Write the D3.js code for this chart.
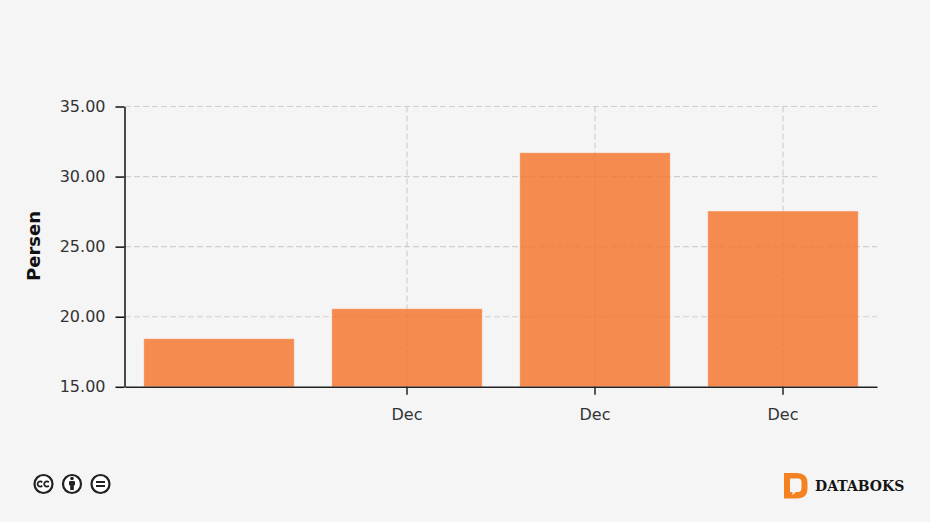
<!DOCTYPE html>
<html><head><meta charset="utf-8">
<script src="https://cdn.jsdelivr.net/npm/d3@7/dist/d3.min.js"></script>
<style>
html,body{margin:0;padding:0;background:#f5f5f5;overflow:hidden}
text{font-family:"DejaVu Sans",sans-serif}
</style></head><body>
<svg id="c" width="930" height="522"></svg>
<script>
const categories = ["a", "b", "c", "d"];
const categoryLabels = ["", "Dec", "Dec", "Dec"];
const values = [18.43, 20.57, 31.7, 27.54];
const yTicks = [15, 20, 25, 30, 35];
const yTitle = "Persen";
const brand = "DATABOKS";

const svg = d3.select("#c");
const x = d3.scaleBand().domain(categories).range([125, 877]).paddingInner(0.2).paddingOuter(0.1);
const y = d3.scaleLinear().domain([15, 35]).range([386.8, 106.5]);

// grid
const grid = svg.append("g").attr("stroke", "#cfcfcf").attr("stroke-width", 1.2).attr("stroke-dasharray", "6 3");
grid.selectAll("line.h").data(yTicks.slice(1)).join("line").attr("class", "h")
  .attr("x1", 125).attr("x2", 877).attr("y1", d => y(d)).attr("y2", d => y(d));
grid.selectAll("line.v").data(categories.filter((c, i) => categoryLabels[i])).join("line").attr("class", "v")
  .attr("x1", d => x(d) + x.bandwidth() / 2).attr("x2", d => x(d) + x.bandwidth() / 2)
  .attr("y1", y(35)).attr("y2", y(15));

// bars
svg.append("g").selectAll("rect").data(values).join("rect")
  .attr("x", (d, i) => x(categories[i]))
  .attr("width", x.bandwidth())
  .attr("y", d => y(d))
  .attr("height", d => y(15) - y(d))
  .attr("fill", "#f57025").attr("fill-opacity", 0.8)
  .attr("stroke", "#fff").attr("stroke-opacity", 0.3).attr("stroke-width", 1);

// y axis
const gy = svg.append("g").attr("transform", "translate(124.5,0)")
  .call(d3.axisLeft(y).tickValues(yTicks).tickFormat(d3.format(".2f")).tickSize(9).tickSizeOuter(0).tickPadding(10));
gy.selectAll("path").attr("stroke", "#111").attr("stroke-width", 1.5);
gy.selectAll("line").attr("stroke", "#111").attr("stroke-width", 1.5);
gy.selectAll("text").attr("font-size", 16).attr("fill", "#333").style("font-family", '"DejaVu Sans",sans-serif');

// x axis
const gx = svg.append("g").attr("transform", "translate(0,386.8)")
  .call(d3.axisBottom(x).tickFormat((d, i) => categoryLabels[i]).tickSize(8).tickSizeOuter(0).tickPadding(14));
gx.select("path").attr("stroke", "#222").attr("stroke-width", 1.6);
gx.selectAll("line").attr("stroke", "#222").attr("stroke-width", 1.5)
  .attr("display", (d, i) => categoryLabels[i] ? null : "none");
gx.selectAll("text").attr("font-size", 16).attr("fill", "#333").style("font-family", '"DejaVu Sans",sans-serif');

// y title
svg.append("text").attr("transform", "translate(40,246) rotate(-90)")
  .attr("text-anchor", "middle").attr("font-size", 18).attr("font-weight", "bold").attr("fill", "#111").text(yTitle);

// cc icons
const icons = svg.append("g").attr("fill", "none").attr("stroke", "#222");
[43.5, 72, 100.5].forEach(cx => icons.append("circle").attr("cx", cx).attr("cy", 484).attr("r", 9).attr("stroke-width", 2.2).attr("fill", "#fff"));
const arc = d3.arc().innerRadius(2.6).outerRadius(2.6).startAngle(Math.PI / 2 + 0.7).endAngle(Math.PI * 2.5 - 0.7);
[40.2, 46.8].forEach(cx => icons.append("path").attr("d", arc()).attr("transform", `translate(${cx},484)`).attr("stroke-width", 1.8));
const person = svg.append("g").attr("fill", "#222");
person.append("circle").attr("cx", 72).attr("cy", 478.5).attr("r", 1.8);
person.append("rect").attr("x", 69).attr("y", 481).attr("width", 6).attr("height", 4.5).attr("rx", 1);
person.append("rect").attr("x", 70.2).attr("y", 484).attr("width", 3.6).attr("height", 6);
person.append("rect").attr("x", 96).attr("y", 481).attr("width", 9).attr("height", 2);
person.append("rect").attr("x", 96).attr("y", 485).attr("width", 9).attr("height", 2);

// logo
svg.append("path").attr("fill", "#f58220").attr("fill-rule", "evenodd")
  .attr("d", "M784 473H797Q807.5 473 807.5 483V488Q807.5 498.5 797 498.5H784ZM790 478.5V492H792.5V495L796 492H798Q801.5 492 801.5 488V482Q801.5 478.5 798 478.5Z");
svg.append("text").attr("x", 815).attr("y", 491).attr("font-size", 14).attr("font-weight", "bold")
  .attr("fill", "#151515").style("font-family", '"DejaVu Serif",serif').text(brand);
</script>
</body></html>
